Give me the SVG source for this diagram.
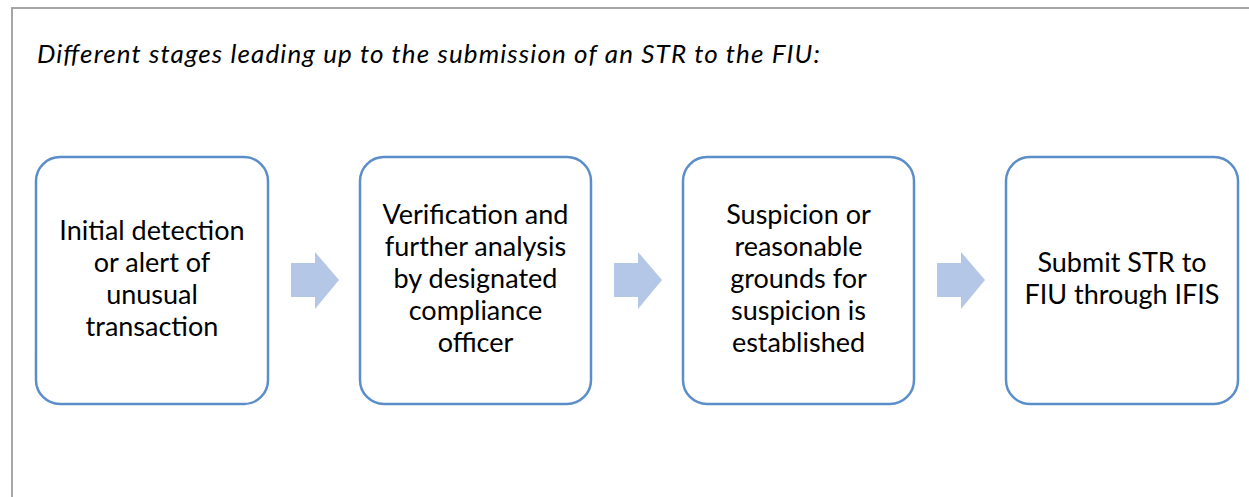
<svg xmlns="http://www.w3.org/2000/svg" width="1249" height="497" viewBox="0 0 1249 497">
<defs>
<style>
.frame{fill:none;stroke:#a6a6a6;stroke-width:2}
.box{fill:#ffffff;stroke:#5b8ec9;stroke-width:2.5}
.arrow{fill:#b4c7e7;stroke:none}
.lbl{font-family:Lato,"Open Sans",sans-serif;font-size:27px;fill:#000;text-anchor:middle}
.title{font-family:Lato,"Open Sans",sans-serif;font-size:26px;font-style:italic;fill:#000}
</style>
</defs>
<rect width="1249" height="497" fill="#ffffff"/>
<path class="frame" d="M1260,8 H12 V510"/>
<text class="title" x="37" y="63" textLength="783" lengthAdjust="spacing">Different stages leading up to the submission of an STR to the FIU:</text>
<g id="connectors">
<polygon class="arrow" points="291,263 315,263 315,252 339,280 315,309 315,297 291,297"/>
<polygon class="arrow" points="614,263 638,263 638,252 662,280 638,309 638,297 614,297"/>
<polygon class="arrow" points="937,263 961,263 961,252 985,280 961,309 961,297 937,297"/>
</g>
<g id="node1">
<rect class="box" x="36" y="157" width="232" height="247" rx="24"/>
<text class="lbl" x="152" y="240">Initial detection</text>
<text class="lbl" x="152" y="272">or alert of</text>
<text class="lbl" x="152" y="304">unusual</text>
<text class="lbl" x="152" y="336">transaction</text>
</g>
<g id="node2">
<rect class="box" x="360" y="157" width="231" height="247" rx="24"/>
<text class="lbl" x="475.5" y="224">Verification and</text>
<text class="lbl" x="475.5" y="256">further analysis</text>
<text class="lbl" x="475.5" y="288">by designated</text>
<text class="lbl" x="475.5" y="320">compliance</text>
<text class="lbl" x="475.5" y="352">officer</text>
</g>
<g id="node3">
<rect class="box" x="683" y="157" width="231" height="247" rx="24"/>
<text class="lbl" x="798.5" y="224">Suspicion or</text>
<text class="lbl" x="798.5" y="256">reasonable</text>
<text class="lbl" x="798.5" y="288">grounds for</text>
<text class="lbl" x="798.5" y="320">suspicion is</text>
<text class="lbl" x="798.5" y="352">established</text>
</g>
<g id="node4">
<rect class="box" x="1006" y="157" width="232" height="247" rx="24"/>
<text class="lbl" x="1122" y="272">Submit STR to</text>
<text class="lbl" x="1122" y="304">FIU through IFIS</text>
</g>
</svg>
